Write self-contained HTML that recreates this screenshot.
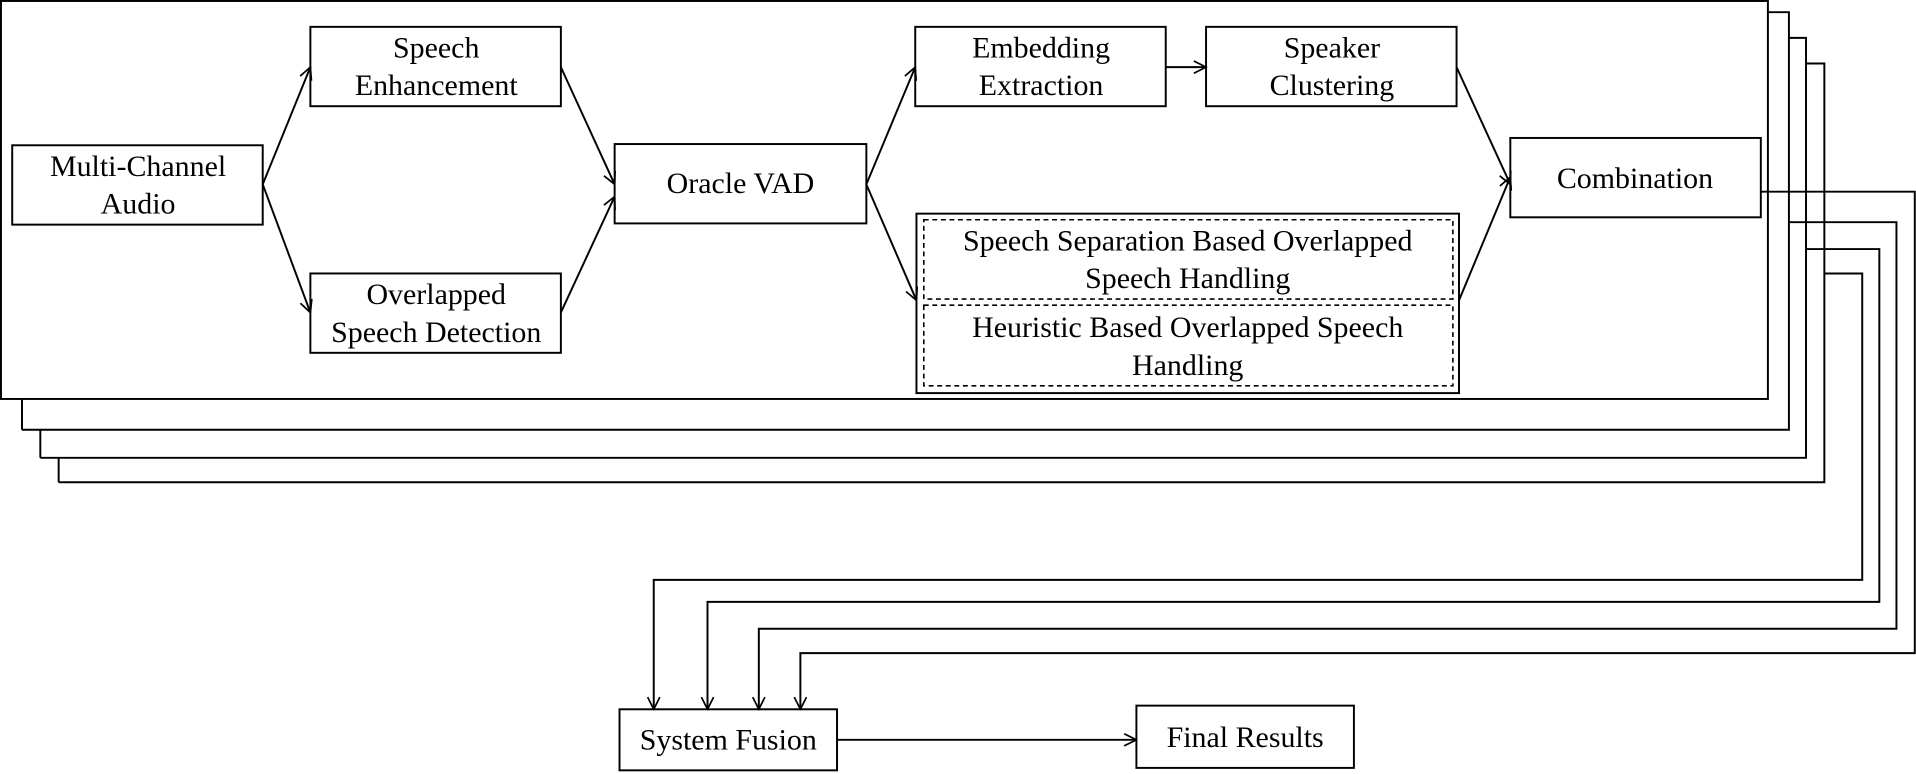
<!DOCTYPE html>
<html><head><style>html,body{margin:0;padding:0;background:#fff}svg{display:block}</style></head><body>
<svg width="1916" height="774" viewBox="0 0 1568 634" preserveAspectRatio="none" xmlns="http://www.w3.org/2000/svg">
<defs><marker id="a" viewBox="0 0 12 12" refX="11" refY="6" markerWidth="12" markerHeight="12" markerUnits="userSpaceOnUse" orient="auto"><polyline points="1,1 11,6 1,11" fill="none" stroke="#000" stroke-width="1.4"/></marker></defs>
<g fill="none" stroke="#000" stroke-width="1.6">
<polyline points="48,395 1493,395 1493,52 1478,52"/>
<polyline points="33,375 1478,375 1478,31 1464,31"/>
<polyline points="18,352 1464,352 1464,10 1447,10"/>
<line x1="48" y1="375" x2="48" y2="395"/><line x1="33" y1="352" x2="33" y2="375"/><line x1="18" y1="327" x2="18" y2="352"/>
<rect x="0.8" y="0.8" width="1446" height="326" fill="#fff"/>
<rect x="10" y="119" width="205" height="65"/>
<rect x="254" y="22" width="205" height="65"/>
<rect x="254" y="224" width="205" height="65"/>
<rect x="503" y="118" width="206" height="65"/>
<rect x="749" y="22" width="205" height="65"/>
<rect x="987" y="22" width="205" height="65"/>
<rect x="1236" y="113" width="205" height="65"/>
<rect x="750" y="175" width="444" height="147"/>
<rect x="756" y="180" width="433" height="65" stroke-dasharray="4,3" stroke-width="1.3"/>
<rect x="756" y="250" width="433" height="66" stroke-dasharray="4,3" stroke-width="1.3"/>
<rect x="507" y="581" width="178" height="50"/>
<rect x="930" y="578" width="178" height="51"/>
<g marker-end="url(#a)">
<line x1="215" y1="151" x2="254" y2="55"/>
<line x1="215" y1="151" x2="254" y2="256"/>
<line x1="459" y1="55" x2="503" y2="151"/>
<line x1="459" y1="256" x2="503" y2="161"/>
<line x1="709" y1="151" x2="749" y2="55"/>
<line x1="709" y1="151" x2="750" y2="246"/>
<line x1="954" y1="55" x2="987" y2="55"/>
<line x1="1192" y1="55" x2="1236" y2="151"/>
<line x1="1194" y1="246" x2="1236" y2="145"/>
<line x1="685" y1="606" x2="930" y2="606"/>
<polyline points="1441,157 1567,157 1567,535 655,535 655,581"/>
<polyline points="1464,182 1552,182 1552,515 621,515 621,581"/>
<polyline points="1478,204 1538,204 1538,493 579,493 579,581"/>
<polyline points="1493,224 1524,224 1524,475 535,475 535,581"/>
</g>
</g>
<g font-family="Liberation Serif, serif" font-size="24.5" text-anchor="middle" fill="#000">
<text x="113" y="144">Multi-Channel</text><text x="113" y="175">Audio</text>
<text x="357" y="47">Speech</text><text x="357" y="78">Enhancement</text>
<text x="357" y="249">Overlapped</text><text x="357" y="280">Speech Detection</text>
<text x="606" y="158">Oracle VAD</text>
<text x="852" y="47">Embedding</text><text x="852" y="78">Extraction</text>
<text x="1090" y="47">Speaker</text><text x="1090" y="78">Clustering</text>
<text x="1338" y="154">Combination</text>
<text x="972" y="205">Speech Separation Based Overlapped</text><text x="972" y="236">Speech Handling</text>
<text x="972" y="276">Heuristic Based Overlapped Speech</text><text x="972" y="307">Handling</text>
<text x="596" y="614">System Fusion</text>
<text x="1019" y="612">Final Results</text>
</g>
</svg>
</body></html>
